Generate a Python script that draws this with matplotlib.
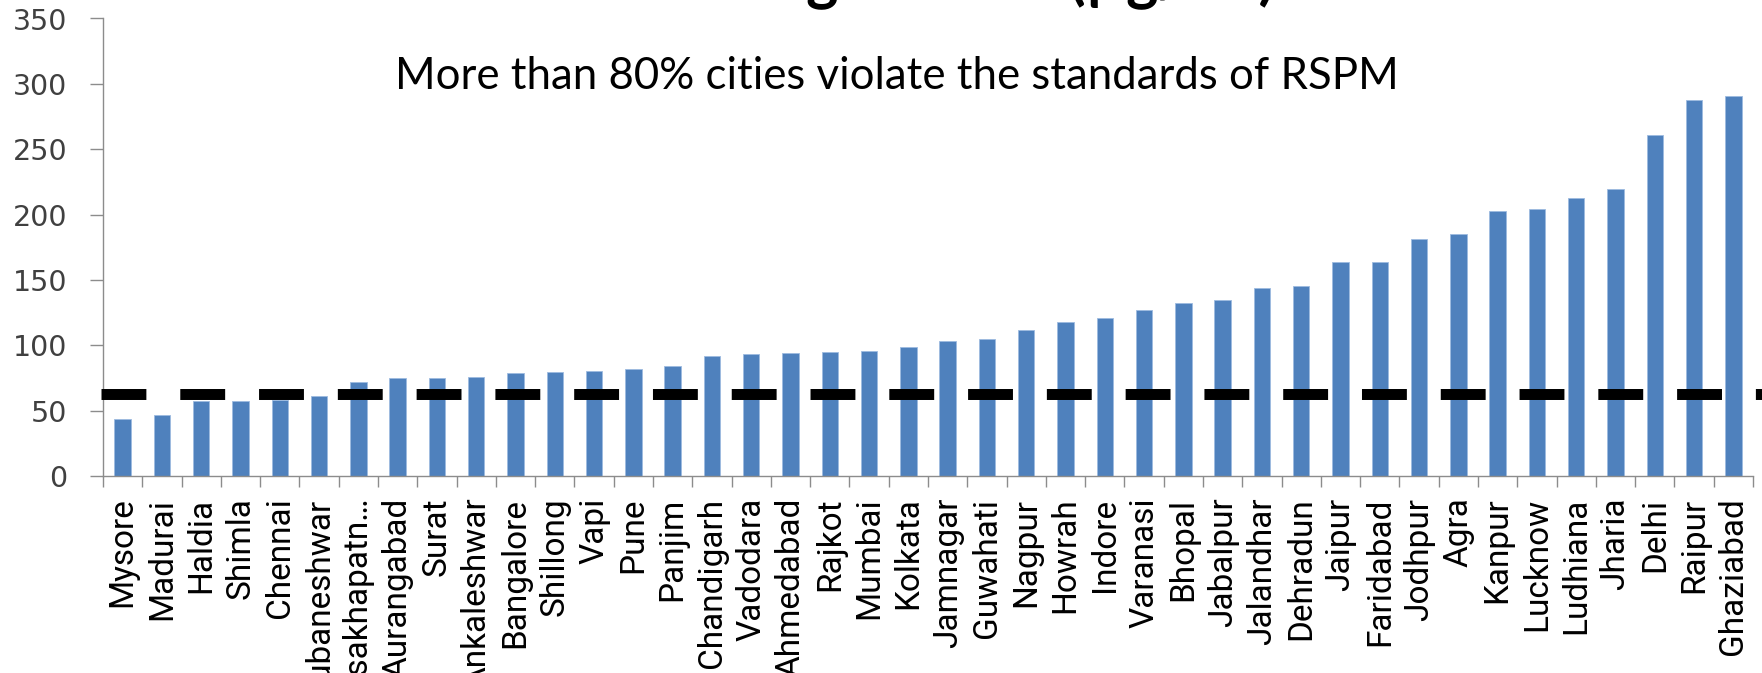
import matplotlib
matplotlib.use("Agg")
import matplotlib.pyplot as plt
from matplotlib import font_manager

cities = ["Mysore", "Madurai", "Haldia", "Shimla", "Chennai", "Bhubaneshwar",
          "Visakhapatn…", "Aurangabad", "Surat", "Ankaleshwar", "Bangalore",
          "Shillong", "Vapi", "Pune", "Panjim", "Chandigarh", "Vadodara",
          "Ahmedabad", "Rajkot", "Mumbai", "Kolkata", "Jamnagar", "Guwahati",
          "Nagpur", "Howrah", "Indore", "Varanasi", "Bhopal", "Jabalpur",
          "Jalandhar", "Dehradun", "Jaipur", "Faridabad", "Jodhpur", "Agra",
          "Kanpur", "Lucknow", "Ludhiana", "Jharia", "Delhi", "Raipur", "Ghaziabad"]
rspm = [43.5, 46.5, 57, 57, 58, 61.5, 72, 75, 75, 76, 78.5, 79.5, 80.5, 81.5,
        84.5, 92, 93, 94, 95, 96, 99, 103.5, 104.5, 112, 117.5, 120.5, 127,
        132, 135, 144, 145, 164, 164, 181, 185, 203, 204, 213, 219.5, 260.5,
        288, 290.5]
standard = 63
yticks = [0, 50, 100, 150, 200, 250, 300, 350]

note = "More than 80% cities violate the standards of RSPM"
title = "Average RSPM (µg/m³)"


def pick_font(names):
    for n in names:
        try:
            font_manager.findfont(n, fallback_to_default=False)
            return n
        except Exception:
            pass
    return "DejaVu Sans"


narrow = pick_font(["Liberation Sans Narrow", "DejaVu Sans Condensed", "Roboto"])

W, H = 1762, 673
fig = plt.figure(figsize=(W / 100, H / 100), dpi=100)
ax = fig.add_axes([103 / W, (H - 476) / H, 1650 / W, 457.5 / H])

x = list(range(len(cities)))
ax.bar(x, rspm, width=0.42, color="#4F81BD", edgecolor="#9dbbe0", linewidth=0.6, zorder=2)

# standard line, dashes run past the right end of the axis like the original
line, = ax.plot([-0.55, 41.73], [standard, standard], color="black", linewidth=7.9,
                solid_capstyle="butt", dash_capstyle="butt", clip_on=False, zorder=3)
line.set_linestyle((0, (4.09, 3.09)))

ax.set_xlim(-0.5, len(cities) - 0.5)
ax.set_ylim(0, 350)
ax.set_yticks(yticks)

ax.set_xticks(x)
ax.set_xticklabels(cities, rotation=90, family=[narrow, "DejaVu Sans"], fontsize=24)
ax.set_xticks([i - 0.5 for i in range(len(cities) + 1)], minor=True)
ax.tick_params(axis="x", which="major", length=0, pad=15.5)
ax.tick_params(axis="x", which="minor", length=8, width=1, color="#8c8c8c", direction="out")
ax.tick_params(axis="y", length=9.5, width=1, color="#8c8c8c", pad=16,
               labelsize=20.5, labelcolor="#404040")

for s in ["top", "right"]:
    ax.spines[s].set_visible(False)
for s in ["left", "bottom"]:
    ax.spines[s].set_color("#8c8c8c")
    ax.spines[s].set_linewidth(1)

fig.text(897 / W, 1 - 89 / H, note, ha="center", va="baseline",
         family=["Lato", "DejaVu Sans"], fontsize=31.5, color="black")
fig.text(1275 / W, 1 + 3 / H, title, ha="right", va="baseline",
         family=["Lato", "DejaVu Sans"], fontweight="bold", fontsize=44, color="black")

plt.savefig("out.png", dpi=100)
